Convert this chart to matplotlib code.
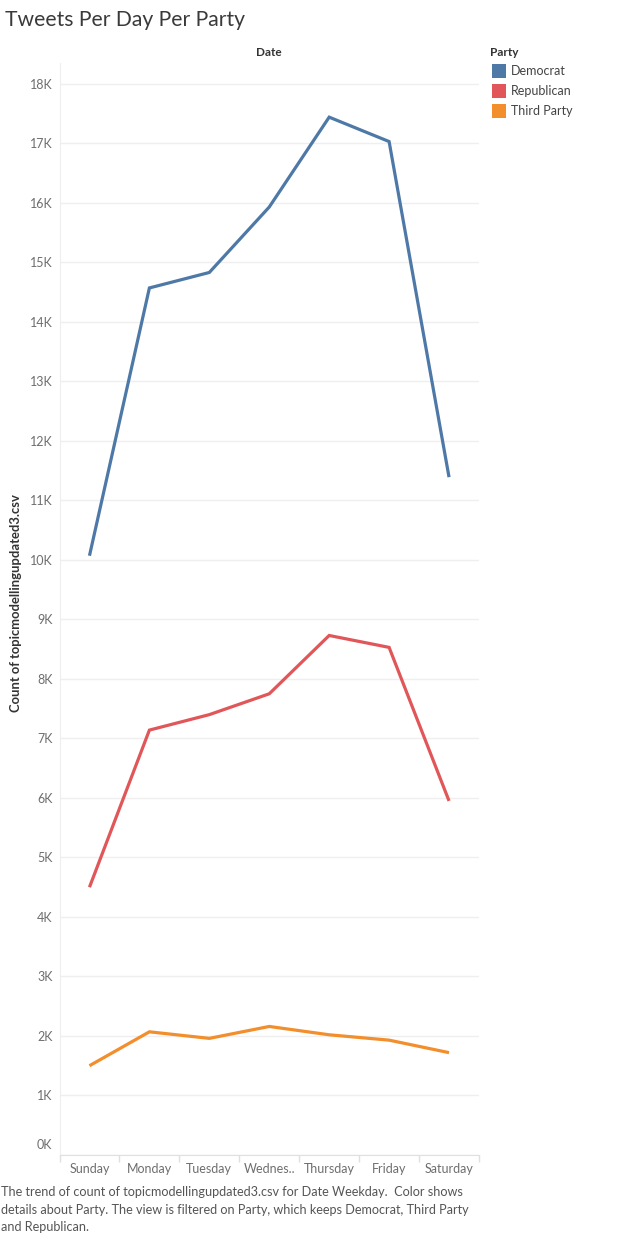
import numpy as np
import matplotlib.pyplot as plt
import matplotlib.transforms as mtransforms
from matplotlib.ticker import FixedLocator

# data
days = ["Sunday", "Monday", "Tuesday", "Wednes..", "Thursday", "Friday", "Saturday"]
democrat = [10070, 14570, 14830, 15930, 17440, 17030, 11390]
republican = [4500, 7140, 7400, 7750, 8730, 8530, 5950]
third_party = [1500, 2070, 1960, 2160, 2020, 1930, 1720]
parties = ["Democrat", "Republican", "Third Party"]
colours = ["#4e79a7", "#e15759", "#f28e2b"]
y_ticks = list(range(0, 19000, 1000))
y_labels = ["%dK" % (v // 1000) for v in y_ticks]

plt.rcParams['font.family'] = ['Lato', 'DejaVu Sans']

W, H = 629, 1235
fig = plt.figure(figsize=(W / 100, H / 100), dpi=100)
left, right, top, bottom = 59.5, 479, 63, 1155
ax = fig.add_axes([left / W, 1 - bottom / H, (right - left) / W, (bottom - top) / H])

x = np.arange(len(days))
for vals, name, col in zip([democrat, republican, third_party], parties, colours):
    ax.plot(x, vals, color=col, lw=2.3, solid_capstyle='butt', solid_joinstyle='miter', label=name)

ax.set_xlim(-0.5, len(days) - 0.5)
ax.set_ylim(0, 18350)

# grid and axes styling
ax.set_yticks(y_ticks)
ax.set_yticklabels(y_labels)
ax.yaxis.grid(True, color="#efefef", lw=1)
ax.set_axisbelow(True)
for s in ["top", "right"]:
    ax.spines[s].set_visible(False)
ax.spines["left"].set_color("#eeeeee")
ax.spines["bottom"].set_color("#e0e0e0")
ax.tick_params(axis="y", length=0, pad=5, labelsize=9, labelcolor="#6e6e6e")

ax.set_xticks(x)
ax.set_xticklabels(days)
ax.xaxis.set_minor_locator(FixedLocator(np.arange(-0.5, len(days), 1.0)))
ax.tick_params(axis="x", which="major", length=0, pad=6, labelsize=9, labelcolor="#6e6e6e")
ax.tick_params(axis="x", which="minor", length=5, color="#e0e0e0", width=1)

# nudge the 0K label up like tableau does
lbl0 = ax.get_yticklabels()[0]
lbl0.set_transform(lbl0.get_transform() + mtransforms.ScaledTranslation(0, 8 / 72, fig.dpi_scale_trans))

# titles and labels
fig.text(5 / W, 1 - 20 / H, "Tweets Per Day Per Party", fontsize=15.2,
         color="#3a3a3a", va="center", ha="left")
fig.text(269 / W, 1 - 53 / H, "Date", fontsize=8.5, fontweight="bold", color="#333333",
         ha="center", va="center")
fig.text(16 / W, 1 - 603 / H, "Count of topicmodellingupdated3.csv", fontsize=9.4,
         fontweight="bold", color="#333333", rotation=90, ha="center", va="center")

# legend drawn by hand in tableau style
fig.text(490 / W, 1 - 53 / H, "Party", fontsize=8.5, fontweight="bold", color="#333333",
         ha="left", va="center")
for i, (name, col) in enumerate(zip(parties, colours)):
    yc = 71 + 20 * i
    fig.patches.append(plt.Rectangle((492 / W, 1 - (yc + 7) / H), 14 / W, 14 / H,
                                     transform=fig.transFigure, facecolor=col, edgecolor="none"))
    fig.text(511 / W, 1 - yc / H, name, fontsize=9, color="#444444", ha="left", va="center")

caption = ("The trend of count of topicmodellingupdated3.csv for Date Weekday.  Color shows\n"
           "details about Party. The view is filtered on Party, which keeps Democrat, Third Party\n"
           "and Republican.")
fig.text(1 / W, 1 - 1186 / H, caption, fontsize=9.05, color="#555555", ha="left", va="top",
         linespacing=1.55)

fig.savefig("out.png", dpi=100)
